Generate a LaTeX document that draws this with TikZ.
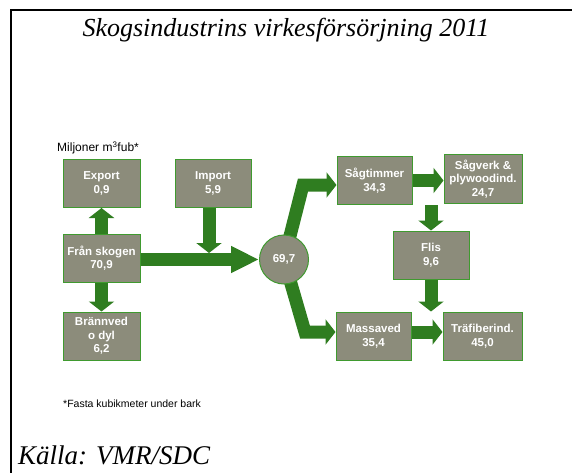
\documentclass[tikz,border=0pt]{standalone}
\usepackage{fontspec}
\setmainfont{Liberation Serif}
\setsansfont{Liberation Sans}
\usetikzlibrary{arrows.meta,backgrounds,calc}
\definecolor{BoxGray}{HTML}{8C8C7B}
\definecolor{BoxLine}{HTML}{3F9A2F}
\definecolor{FlowGreen}{HTML}{2F7D20}

\begin{document}
\begin{tikzpicture}[x=1pt,y=-1pt,
        box/.style={draw=BoxLine,line width=1pt,fill=BoxGray,text=white,inner sep=0pt,
            font=\sffamily\bfseries\fontsize{11.5}{13.5}\selectfont,align=center,minimum height=48pt},
        flow/.style={draw=FlowGreen,line width=13pt,-{Triangle[width=25pt,length=10pt]}},
        big/.style={inner sep=0pt,font=\itshape\fontsize{26}{30}\selectfont}]
        \useasboundingbox (0,0) rectangle (572,473);
        \draw[line width=2pt] (11,473) -- (11,10) -- (572,10);
        \node[big,anchor=base] (title) at (286,37) {Skogsindustrins virkesförsörjning 2011};
        \node[big,anchor=base west,font=\itshape\fontsize{27}{30}\selectfont] (source) at (18,464) {Källa: VMR/SDC};
        \node[anchor=base west,inner sep=0pt,font=\sffamily\fontsize{12}{14}\selectfont] (unit) at (57,152) {Miljoner m\textsuperscript{3}fub*};
        \node[anchor=base west,inner sep=0pt,font=\sffamily\fontsize{10.5}{12}\selectfont] (note) at (63,407) {*Fasta kubikmeter under bark};
        % boxes
        \node[box,minimum width=77pt] (export) at (101.5,183.5) {Export\\0,9};
        \node[box,minimum width=76pt] (import) at (213,183.5) {Import\\5,9};
        \node[box,minimum width=77pt] (skogen) at (101.5,258) {Från skogen\\70,9};
        \node[box,minimum width=77pt] (brann) at (101.5,336) {Brännved\\o dyl\\6,2};
        \node[box,circle,minimum size=49pt] (total) at (284,259.5) {69,7};
        \node[box,minimum width=75pt] (sagtimmer) at (374.5,180.5) {Sågtimmer\\34,3};
        \node[box,minimum width=78pt] (sagverk) at (483,179) {Sågverk \&\\plywoodind.\\24,7};
        \node[box,minimum width=76pt] (flis) at (431,255) {Flis\\9,6};
        \node[box,minimum width=75pt] (massaved) at (373.5,336) {Massaved\\35,4};
        \node[box,minimum width=79pt] (trafiber) at (482.5,336) {Träfiberind.\\45,0};
        \coordinate (merge) at (209,253);
        \coordinate (upbend) at (303,185);
        \coordinate (downbend) at (305,332);
        % flows
        \begin{scope}[on background layer]
            \draw[flow] (skogen.north) -- (export.south);
            \draw[flow] (skogen.south) -- (brann.north);
            \draw[flow,-{Triangle[width=25pt,length=28pt]}] (skogen.east |- total) -- (total.west);
            \draw[flow] (import.south -| merge) -- (merge);
            \draw[flow] (total.center) -- (upbend) -- (upbend -| sagtimmer.west);
            \draw[flow] (total.center) -- (downbend) -- (downbend -| massaved.west);
            \draw[flow] (sagtimmer.east) -- (sagtimmer.east -| sagverk.west);
            \draw[flow] (flis.north |- sagtimmer.south) -- (flis.north);
            \draw[flow] (flis.south) -- (flis.south |- trafiber.north);
            \draw[flow] ([yshift=4pt]massaved.east) -- ([yshift=4pt]massaved.east -| trafiber.west);
        \end{scope}
\end{tikzpicture}
\end{document}
